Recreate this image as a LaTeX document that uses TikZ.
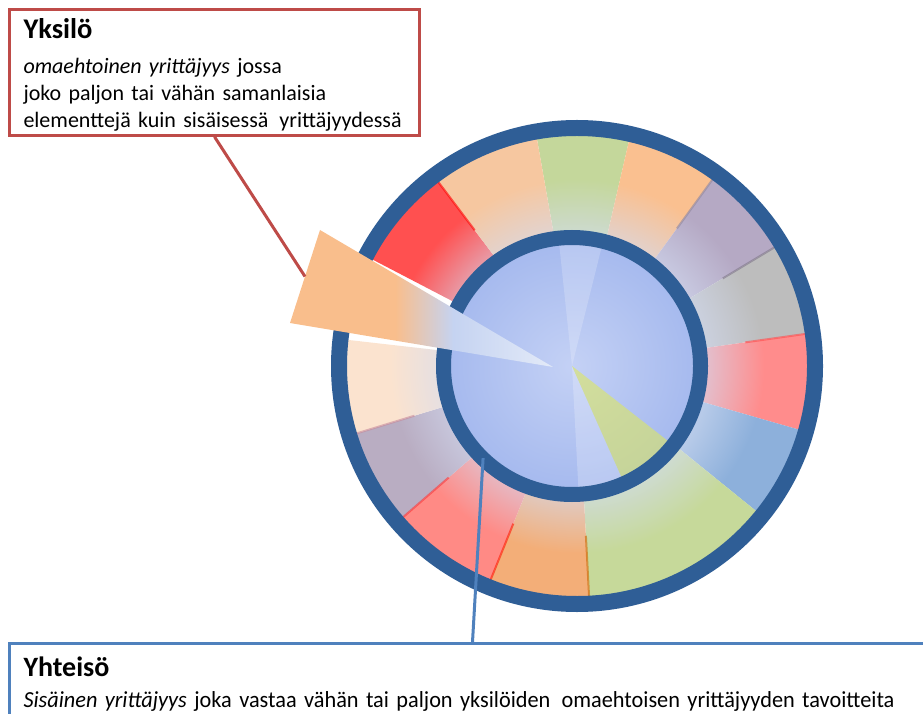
\documentclass[tikz,border=0pt]{standalone}
\usepackage{fontspec}
\setmainfont{Carlito}
\usetikzlibrary{calc}

\definecolor{ringblue}{HTML}{2F5E96}
\definecolor{boxred}{HTML}{BE4B48}
\definecolor{boxblue}{HTML}{4F81BD}
\definecolor{diskblue}{HTML}{A5B9EE}
\definecolor{disklight}{HTML}{C4D1F5}
\definecolor{paleblue}{HTML}{D3DCF2}
\definecolor{segGreen}{HTML}{C4D79B}
\definecolor{segOrange}{HTML}{FAC090}
\definecolor{segLilac}{HTML}{B5A9C4}
\definecolor{segGray}{HTML}{BDBDBD}
\definecolor{segPink}{HTML}{FF8C8C}
\definecolor{segBlue}{HTML}{8DB0DB}
\definecolor{segLime}{HTML}{C6D99A}
\definecolor{segApricot}{HTML}{F3AE78}
\definecolor{segSalmon}{HTML}{FF8A85}
\definecolor{segMauve}{HTML}{B9ADC2}
\definecolor{segPeach}{HTML}{FBE3CF}
\definecolor{segRed}{HTML}{FF5050}
\definecolor{segTan}{HTML}{F6C7A0}
\definecolor{wedgeorange}{HTML}{F9BE8C}
\definecolor{wedgeblue}{HTML}{C5D3F1}
\definecolor{wedgetip}{HTML}{E3EAF8}
\colorlet{segcol}{segGreen}
\colorlet{segin}{paleblue}

% fades of the ring segments, the disk and the pulled out wedge
\pgfdeclareradialshading[segcol,segin]{segfade}{\pgfpointorigin}{color(0bp)=(segin);color(13.5bp)=(segin);color(19bp)=(segcol);color(50bp)=(segcol)}
\pgfdeclareradialshading{diskfade}{\pgfpointorigin}{color(0bp)=(disklight);color(25bp)=(diskblue);color(50bp)=(diskblue)}
\pgfdeclarehorizontalshading{wedgefade}{100bp}{color(0bp)=(wedgeorange);color(45bp)=(wedgeorange);color(56bp)=(wedgeblue);color(75bp)=(wedgetip);color(100bp)=(wedgetip)}

\tikzset{
  yksbox/.style={draw=boxred, line width=3pt, fill=white, align=left,
    text width=382pt, inner xsep=14pt, inner ysep=9pt,
    font=\fontsize{22}{27}\selectfont},
  yhtbox/.style={draw=boxblue, line width=3pt, fill=white, align=left,
    text width=898pt, inner xsep=14pt, inner ysep=13pt,
    font=\fontsize{23}{31}\selectfont},
  seamline/.style={line width=2pt, opacity=.6}
}

\begin{document}
\begin{tikzpicture}[x=1pt, y=1pt]
\useasboundingbox (0,0) rectangle (923,713);
\coordinate (O) at (577,347);
\coordinate (I) at (572,347);

% ring segments
\foreach \a/\b/\c in {77/100/segGreen, 54/77/segOrange, 31/54/segLilac,
    8/31/segGray, -16/8/segPink, -39/-16/segBlue, -87/-39/segLime,
    -112/-87/segApricot, -139/-112/segSalmon, -163/-139/segMauve,
    -186.5/-163/segPeach, 127/152.5/segRed, 100/127/segTan}{
  \colorlet{segcol}{\c}
  \colorlet{segin}{\c!40!paleblue}
  \begin{scope}
    \clip (O) -- ++(\a:240) arc[start angle=\a, end angle=\b, radius=240] -- cycle;
    \shade[shading=segfade] (O) circle (246);
  \end{scope}
}
% seams
\foreach \a/\c in {127/red, 31/segLilac!70!black, 54/segLilac!80!black,
    8/red!70!white, -87/orange!80!black, -112/red!80!orange,
    -139/red!80!white, -163/segMauve!80!red}
  \draw[seamline, \c] ($(O)+(\a:170)$) -- ($(O)+(\a:231)$);

% inner disk
\shade[shading=diskfade] (I) circle (128);
\fill[white, opacity=.2] (I) -- ++(76:126) arc[start angle=76, end angle=96, radius=126] -- cycle;
\fill[white, opacity=.22] (I) -- ++(-87:126) arc[start angle=-87, end angle=-66, radius=126] -- cycle;
\fill[segLime!55!yellow, opacity=.55] (I) -- ++(-66:126) arc[start angle=-66, end angle=-38, radius=126] -- cycle;

% rings
\draw[ringblue, line width=15pt] (I) circle (128.5);
\draw[ringblue, line width=16pt] (O) circle (238);

% pulled out wedge
\coordinate (T) at (553,346);
\coordinate (A) at (320,483);
\coordinate (B) at (290,390);
\coordinate (wtouch) at ($(A)!0.5!(B)$);
\coordinate (itouch) at ($(I)+(-134:128)$);
\shade[shading=wedgefade] (A) -- (T) -- (B) -- cycle;

% labels
\node[yksbox, anchor=north west] (yksilo) at (8,705)
  {\vspace*{3pt}{\fontsize{28.5}{28}\selectfont\bfseries Yksilö}\\[5pt]
   \textit{omaehtoinen yrittäjyys} jossa\\
   joko paljon tai vähän samanlaisia\\
   elementtejä kuin sisäisessä\enspace yrittäjyydessä\vspace{-5pt}};
\node[yhtbox, anchor=north west] (yhteiso) at (8,71)
  {{\fontsize{28}{31}\selectfont\bfseries Yhteisö}\\
   \resizebox{871pt}{\height}{\textit{Sisäinen yrittäjyys} joka vastaa vähän tai paljon yksilöiden\enspace omaehtoisen yrittäjyyden tavoitteita}};

\draw[boxred, line width=3pt] (yksilo.south) -- (wtouch);
\draw[boxblue, line width=3pt] (itouch) -- (yhteiso.north);
\end{tikzpicture}
\end{document}
